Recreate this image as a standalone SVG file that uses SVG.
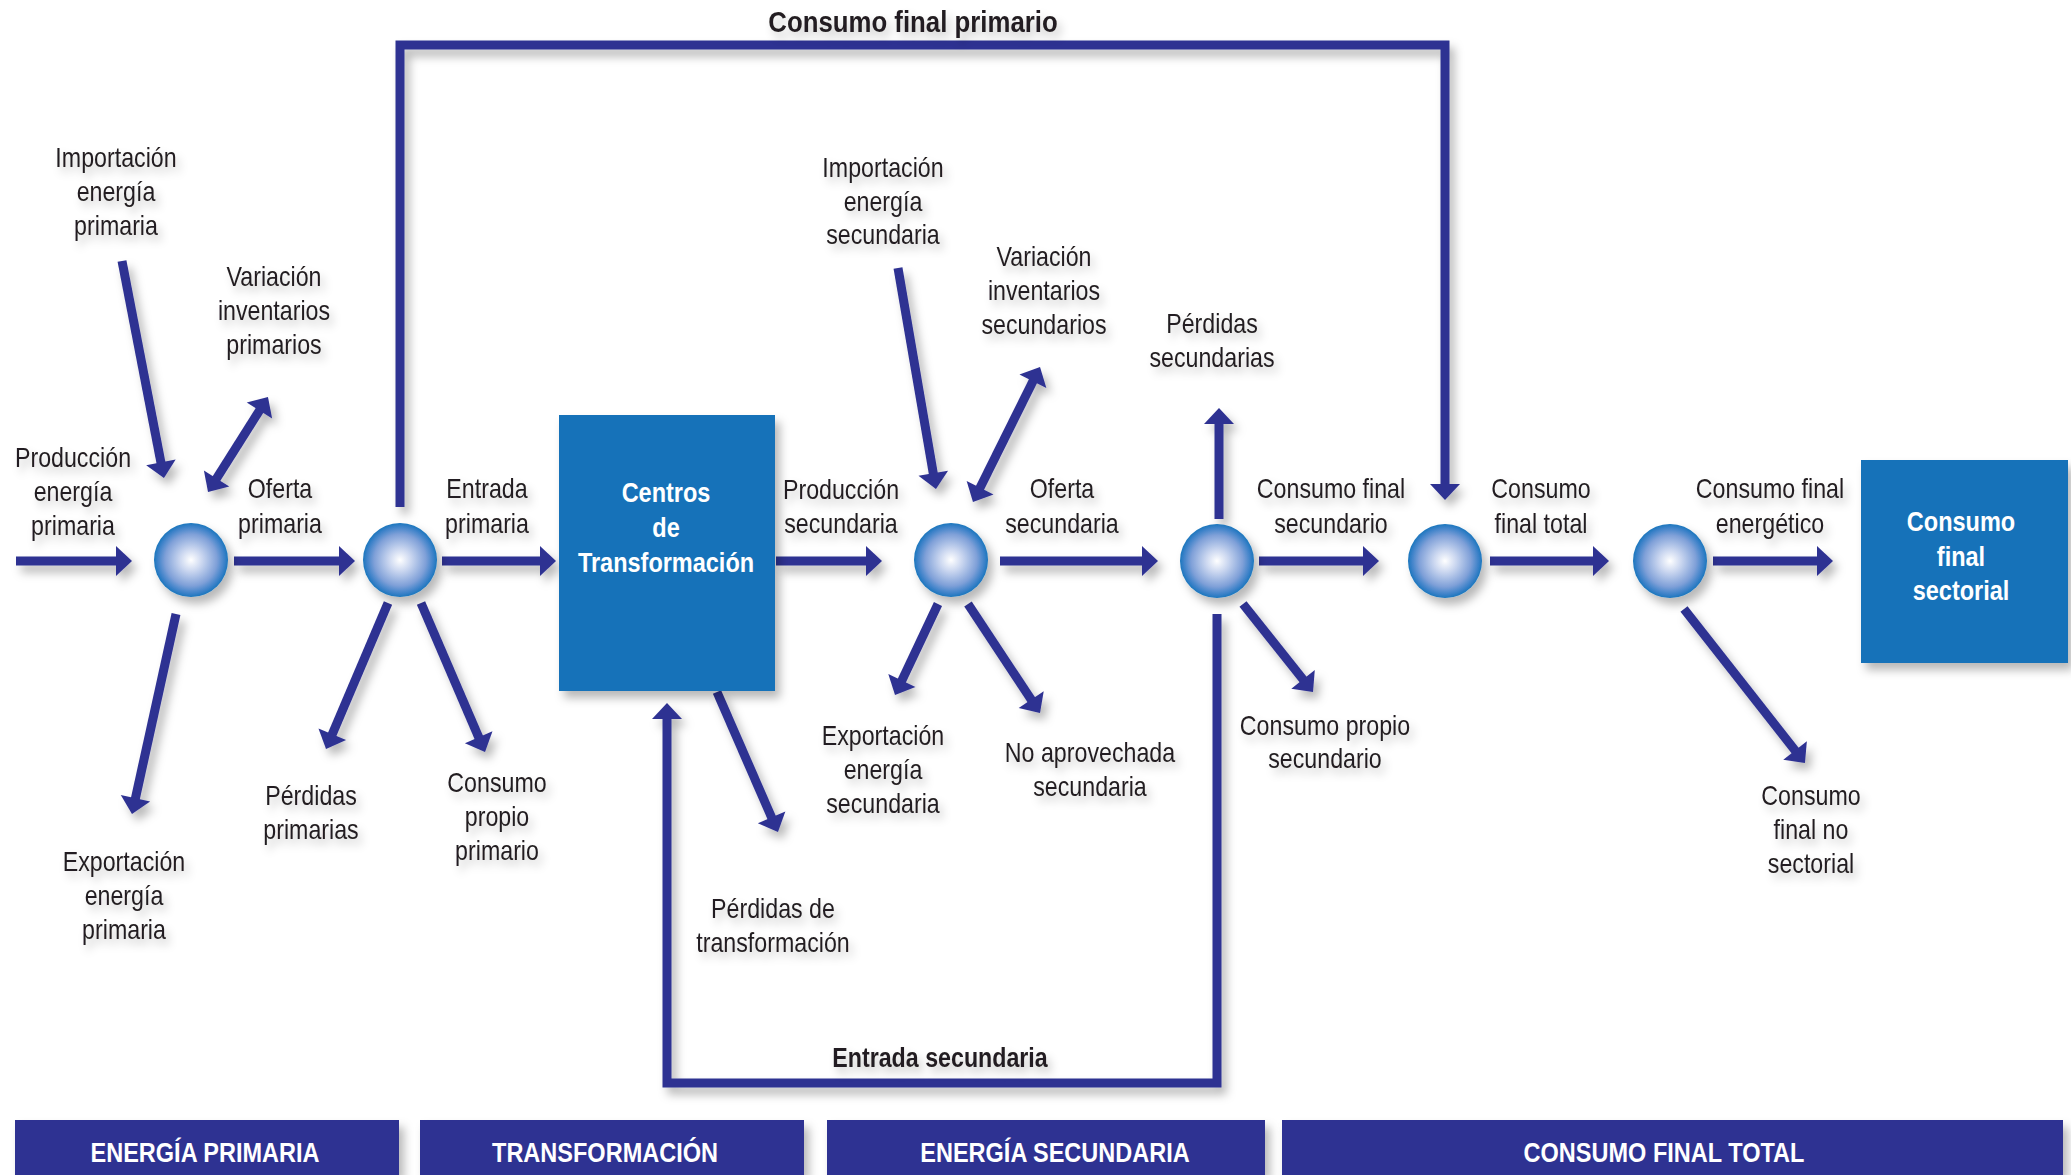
<svg xmlns="http://www.w3.org/2000/svg" width="2071" height="1175" viewBox="0 0 2071 1175">
<style>
.lbl{font-family:"Liberation Sans",Arial,sans-serif;font-size:27px;fill:#231f20;text-anchor:middle}
.b{font-weight:bold}
.w{fill:#ffffff;font-weight:bold}
.bt{font-size:28px}
.conn{fill:none;stroke:#2e3192;stroke-width:9}
.box{fill:#1272b9}
.bar{fill:#2e3192}
</style>
<defs>
<radialGradient id="sphere" cx="50%" cy="50%" r="50%">
<stop offset="0" stop-color="#ffffff"/>
<stop offset="0.3" stop-color="#cbd7f0"/>
<stop offset="0.7" stop-color="#7fa0d8"/>
<stop offset="0.9" stop-color="#3d82c9"/>
<stop offset="1" stop-color="#1b76bd"/>
</radialGradient>
<filter id="sh" filterUnits="userSpaceOnUse" x="0" y="0" width="2071" height="1175">
<feDropShadow dx="5" dy="7" stdDeviation="5" flood-color="#000" flood-opacity="0.28"/>
</filter>
<filter id="tsh" filterUnits="userSpaceOnUse" x="0" y="0" width="2071" height="1175">
<feDropShadow dx="4" dy="6" stdDeviation="4" flood-color="#000" flood-opacity="0.22"/>
</filter>
<marker id="ah" markerUnits="userSpaceOnUse" markerWidth="18" markerHeight="32" refX="2" refY="15" orient="auto-start-reverse" overflow="visible">
<path d="M0,0 L16,15 L0,30 Z" fill="#2e3192"/>
</marker>
</defs>
<rect width="2071" height="1175" fill="#ffffff"/>

<g id="connectors" filter="url(#sh)">
<path class="conn" d="M16,561 H118" marker-end="url(#ah)"/>
<path class="conn" d="M234,561 H341" marker-end="url(#ah)"/>
<path class="conn" d="M442,561 H542" marker-end="url(#ah)"/>
<path class="conn" d="M776,561 H868" marker-end="url(#ah)"/>
<path class="conn" d="M1000,561 H1144" marker-end="url(#ah)"/>
<path class="conn" d="M1259,561 H1365" marker-end="url(#ah)"/>
<path class="conn" d="M1490,561 H1595" marker-end="url(#ah)"/>
<path class="conn" d="M1713,561 H1819" marker-end="url(#ah)"/>
<path class="conn" d="M122,261 L161.3,464.3" marker-end="url(#ah)"/>
<path class="conn" d="M215.5,480.2 L260.5,408.8" marker-start="url(#ah)" marker-end="url(#ah)"/>
<path class="conn" d="M176,614 L135,800.3" marker-end="url(#ah)"/>
<path class="conn" d="M388,603 L331.5,736.1" marker-end="url(#ah)"/>
<path class="conn" d="M421,603 L479.5,739.1" marker-end="url(#ah)"/>
<path class="conn" d="M717,692 L772.4,819.2" marker-end="url(#ah)"/>
<path class="conn" d="M898,268 L933.6,475.2" marker-end="url(#ah)"/>
<path class="conn" d="M979.2,489.5 L1033.8,379.5" marker-start="url(#ah)" marker-end="url(#ah)"/>
<path class="conn" d="M938,604 L901,682.3" marker-end="url(#ah)"/>
<path class="conn" d="M968,604 L1032.3,701.3" marker-end="url(#ah)"/>
<path class="conn" d="M1219,519 V422" marker-end="url(#ah)"/>
<path class="conn" d="M1243,604 L1304.3,681" marker-end="url(#ah)"/>
<path class="conn" d="M1684,609 L1796.3,752" marker-end="url(#ah)"/>
<path class="conn" d="M400,507 V45 H1445 V486" marker-end="url(#ah)"/>
<path class="conn" d="M1217,614 V1083 H667 V717" marker-end="url(#ah)"/>
</g>

<g id="circle-1" filter="url(#sh)"><circle cx="191" cy="560" r="37" fill="url(#sphere)"/></g>
<g id="circle-2" filter="url(#sh)"><circle cx="400" cy="560" r="37" fill="url(#sphere)"/></g>
<g id="circle-3" filter="url(#sh)"><circle cx="951" cy="560" r="37" fill="url(#sphere)"/></g>
<g id="circle-4" filter="url(#sh)"><circle cx="1217" cy="561" r="37" fill="url(#sphere)"/></g>
<g id="circle-5" filter="url(#sh)"><circle cx="1445" cy="561" r="37" fill="url(#sphere)"/></g>
<g id="circle-6" filter="url(#sh)"><circle cx="1670" cy="561" r="37" fill="url(#sphere)"/></g>

<g id="centros-transformacion">
<rect class="box" x="559" y="415" width="216" height="276" filter="url(#sh)"/>
<g transform="translate(666 0) scale(0.87 1)">
<text class="lbl w" x="0" y="502">Centros</text>
<text class="lbl w" x="0" y="537">de</text>
<text class="lbl w" x="0" y="572">Transformación</text>
</g>
</g>

<g id="consumo-final-sectorial">
<rect class="box" x="1861" y="460" width="207" height="203" filter="url(#sh)"/>
<g transform="translate(1961 0) scale(0.87 1)">
<text class="lbl w" x="0" y="531">Consumo</text>
<text class="lbl w" x="0" y="566">final</text>
<text class="lbl w" x="0" y="600">sectorial</text>
</g>
</g>

<g id="bar-energia-primaria">
<rect class="bar" x="15" y="1120" width="384" height="55" filter="url(#sh)"/>
<text class="lbl w bt" transform="translate(205 1162) scale(0.84 1)" x="0" y="0">ENERGÍA PRIMARIA</text>
</g>
<g id="bar-transformacion">
<rect class="bar" x="420" y="1120" width="384" height="55" filter="url(#sh)"/>
<text class="lbl w bt" transform="translate(605 1162) scale(0.84 1)" x="0" y="0">TRANSFORMACIÓN</text>
</g>
<g id="bar-energia-secundaria">
<rect class="bar" x="827" y="1120" width="438" height="55" filter="url(#sh)"/>
<text class="lbl w bt" transform="translate(1055 1162) scale(0.84 1)" x="0" y="0">ENERGÍA SECUNDARIA</text>
</g>
<g id="bar-consumo-final-total">
<rect class="bar" x="1282" y="1120" width="781" height="55" filter="url(#sh)"/>
<text class="lbl w bt" transform="translate(1664 1162) scale(0.84 1)" x="0" y="0">CONSUMO FINAL TOTAL</text>
</g>

<g id="labels" filter="url(#tsh)">
<g id="lbl-consumo-final-primario" transform="translate(913 0) scale(0.86 1)"><text class="lbl b" style="font-size:30px" x="0" y="32">Consumo final primario</text></g>
<g id="lbl-entrada-secundaria" transform="translate(940 0) scale(0.86 1)"><text class="lbl b" x="0" y="1067">Entrada secundaria</text></g>
<g id="lbl-importacion-primaria" transform="translate(116 0) scale(0.86 1)"><text class="lbl" x="0" y="167">Importación</text><text class="lbl" x="0" y="201">energía</text><text class="lbl" x="0" y="235">primaria</text></g>
<g id="lbl-variacion-primarios" transform="translate(274 0) scale(0.86 1)"><text class="lbl" x="0" y="286">Variación</text><text class="lbl" x="0" y="320">inventarios</text><text class="lbl" x="0" y="354">primarios</text></g>
<g id="lbl-produccion-primaria" transform="translate(73 0) scale(0.86 1)"><text class="lbl" x="0" y="467">Producción</text><text class="lbl" x="0" y="501">energía</text><text class="lbl" x="0" y="535">primaria</text></g>
<g id="lbl-oferta-primaria" transform="translate(280 0) scale(0.86 1)"><text class="lbl" x="0" y="498">Oferta</text><text class="lbl" x="0" y="533">primaria</text></g>
<g id="lbl-entrada-primaria" transform="translate(487 0) scale(0.86 1)"><text class="lbl" x="0" y="498">Entrada</text><text class="lbl" x="0" y="533">primaria</text></g>
<g id="lbl-perdidas-primarias" transform="translate(311 0) scale(0.86 1)"><text class="lbl" x="0" y="805">Pérdidas</text><text class="lbl" x="0" y="839">primarias</text></g>
<g id="lbl-consumo-propio-primario" transform="translate(497 0) scale(0.86 1)"><text class="lbl" x="0" y="792">Consumo</text><text class="lbl" x="0" y="826">propio</text><text class="lbl" x="0" y="860">primario</text></g>
<g id="lbl-exportacion-primaria" transform="translate(124 0) scale(0.86 1)"><text class="lbl" x="0" y="871">Exportación</text><text class="lbl" x="0" y="905">energía</text><text class="lbl" x="0" y="939">primaria</text></g>
<g id="lbl-produccion-secundaria" transform="translate(841 0) scale(0.86 1)"><text class="lbl" x="0" y="499">Producción</text><text class="lbl" x="0" y="533">secundaria</text></g>
<g id="lbl-perdidas-transformacion" transform="translate(773 0) scale(0.86 1)"><text class="lbl" x="0" y="918">Pérdidas de</text><text class="lbl" x="0" y="952">transformación</text></g>
<g id="lbl-importacion-secundaria" transform="translate(883 0) scale(0.86 1)"><text class="lbl" x="0" y="177">Importación</text><text class="lbl" x="0" y="211">energía</text><text class="lbl" x="0" y="244">secundaria</text></g>
<g id="lbl-variacion-secundarios" transform="translate(1044 0) scale(0.86 1)"><text class="lbl" x="0" y="266">Variación</text><text class="lbl" x="0" y="300">inventarios</text><text class="lbl" x="0" y="334">secundarios</text></g>
<g id="lbl-oferta-secundaria" transform="translate(1062 0) scale(0.86 1)"><text class="lbl" x="0" y="498">Oferta</text><text class="lbl" x="0" y="533">secundaria</text></g>
<g id="lbl-exportacion-secundaria" transform="translate(883 0) scale(0.86 1)"><text class="lbl" x="0" y="745">Exportación</text><text class="lbl" x="0" y="779">energía</text><text class="lbl" x="0" y="813">secundaria</text></g>
<g id="lbl-no-aprovechada" transform="translate(1090 0) scale(0.86 1)"><text class="lbl" x="0" y="762">No aprovechada</text><text class="lbl" x="0" y="796">secundaria</text></g>
<g id="lbl-perdidas-secundarias" transform="translate(1212 0) scale(0.86 1)"><text class="lbl" x="0" y="333">Pérdidas</text><text class="lbl" x="0" y="367">secundarias</text></g>
<g id="lbl-consumo-final-secundario" transform="translate(1331 0) scale(0.86 1)"><text class="lbl" x="0" y="498">Consumo final</text><text class="lbl" x="0" y="533">secundario</text></g>
<g id="lbl-consumo-propio-secundario" transform="translate(1325 0) scale(0.86 1)"><text class="lbl" x="0" y="735">Consumo propio</text><text class="lbl" x="0" y="768">secundario</text></g>
<g id="lbl-consumo-final-total" transform="translate(1541 0) scale(0.86 1)"><text class="lbl" x="0" y="498">Consumo</text><text class="lbl" x="0" y="533">final total</text></g>
<g id="lbl-consumo-final-energetico" transform="translate(1770 0) scale(0.86 1)"><text class="lbl" x="0" y="498">Consumo final</text><text class="lbl" x="0" y="533">energético</text></g>
<g id="lbl-consumo-final-no-sectorial" transform="translate(1811 0) scale(0.86 1)"><text class="lbl" x="0" y="805">Consumo</text><text class="lbl" x="0" y="839">final no</text><text class="lbl" x="0" y="873">sectorial</text></g>
</g>
</svg>
